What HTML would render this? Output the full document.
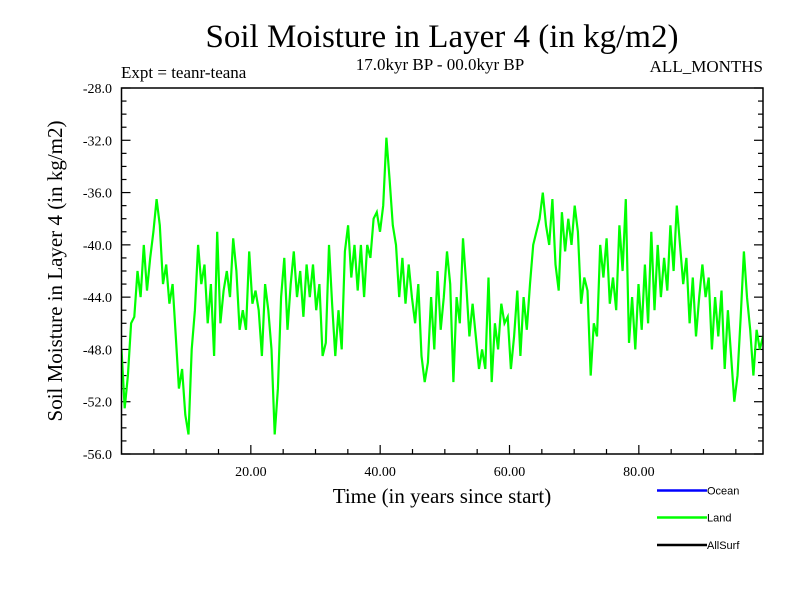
<!DOCTYPE html>
<html><head><meta charset="utf-8"><style>
body{margin:0;background:#fff}
svg{display:block;font-family:"Liberation Serif",serif}
</style></head><body>
<svg id="chart" width="800" height="600" viewBox="0 0 800 600">
<rect width="800" height="600" fill="#fff"/>
<text x="442" y="47" font-size="33" text-anchor="middle">Soil Moisture in Layer 4 (in kg/m2)</text>
<text x="121" y="78" font-size="17">Expt = teanr-teana</text>
<text x="440" y="70" font-size="17" text-anchor="middle">17.0kyr BP - 00.0kyr BP</text>
<text x="763" y="72" font-size="17" text-anchor="end">ALL_MONTHS</text>
<g id="axes"></g>
<clipPath id="clip"><rect x="121.5" y="88" width="641.5" height="366"/></clipPath>
<polyline id="land-line" clip-path="url(#clip)" fill="none" stroke="#00ff00" stroke-width="2.2" stroke-linejoin="miter"/>
<rect x="121.5" y="88" width="641.5" height="366" fill="none" stroke="#000" stroke-width="1.5"/>
<text x="442" y="503" font-size="21" text-anchor="middle">Time (in years since start)</text>
<text transform="translate(62,271) rotate(-90)" font-size="21" text-anchor="middle">Soil Moisture in Layer 4 (in kg/m2)</text>
<g font-family="Liberation Sans, sans-serif" font-size="11">
<line x1="657" y1="490.5" x2="707" y2="490.5" stroke="#0000ff" stroke-width="2.5"/>
<text x="707" y="494.5">Ocean</text>
<line x1="657" y1="517.5" x2="707" y2="517.5" stroke="#00ff00" stroke-width="2.5"/>
<text x="707" y="521.5">Land</text>
<line x1="657" y1="545" x2="707" y2="545" stroke="#000" stroke-width="2.5"/>
<text x="707" y="549">AllSurf</text>
</g>
</svg>
<script>
const yTickValues = [-28,-32,-36,-40,-44,-48,-52,-56];
const yTickLabels = ["-28.0","-32.0","-36.0","-40.0","-44.0","-48.0","-52.0","-56.0"];
const xTickValues = [20,40,60,80];
const xTickLabels = ["20.00","40.00","60.00","80.00"];
const landValues = [
-48,-52.5,-50,-46,-45.5,-42,-44,-40,-43.5,-41,-39,-36.5,-38.5,-43,-41.5,-44.5,-43,-47,-51,-49.5,
-53,-54.5,-48,-45,-40,-43,-41.5,-46,-43,-48.5,-39,-46,-43.5,-42,-44,-39.5,-42,-46.5,-45,-46.5,
-40.5,-44.5,-43.5,-45,-48.5,-43,-45,-48,-54.5,-51,-44,-41,-46.5,-43,-40.5,-44,-42,-45.5,-41.5,-44,
-41.5,-45,-43,-48.5,-47.5,-40,-44.5,-48.5,-45,-48,-40.5,-38.5,-42.5,-40,-43.5,-40,-44,-40,-41,-38,
-37.5,-39,-37,-31.8,-35,-38.5,-40,-44,-41,-44.5,-41.5,-44,-46,-43,-48.5,-50.5,-49,-44,-48,-42,
-46.5,-44,-40.5,-43,-50.5,-44,-46,-39.5,-43,-47,-44.5,-47,-49.5,-48,-49.5,-42.5,-50.5,-46,-48,-44.5,
-46,-45.5,-49.5,-47,-43.5,-48.5,-44,-46.5,-43,-40,-39,-38,-36,-38.5,-40,-36.5,-41.5,-43.5,-37.5,-40.5,
-38,-40,-37,-39,-44.5,-42.5,-43.5,-50,-46,-47,-40,-42.5,-39.5,-44.5,-42.5,-45,-38.5,-42,-36.5,-47.5,
-44,-48,-43,-46.5,-41.5,-46,-39,-45,-40,-44,-41,-43.5,-38.5,-42,-37,-40,-43,-41,-46,-42.5,
-47,-44,-41.5,-44,-42.5,-48,-44,-47,-43.5,-49.5,-45,-48.5,-52,-50,-45.5,-40.5,-44,-46.5,-50,-46.5,
-48,-47
];
const xMin = 0, xMax = 99.2, yMin = -56, yMax = -28;
const L = 121.5, R = 763, T = 88, B = 454;
function xs(v){return L + (v - xMin) / (xMax - xMin) * (R - L);}
function ys(v){return B - (v - yMin) / (yMax - yMin) * (B - T);}
const NS = "http://www.w3.org/2000/svg";
const axes = document.getElementById("axes");
function mk(tag, attrs){const e = document.createElementNS(NS, tag); for (const k in attrs) e.setAttribute(k, attrs[k]); return e;}
// y ticks: minor every 1 unit, major every 4
for (let v = yMin; v <= yMax; v++) {
  const major = (v % 4 === 0);
  const len = major ? 9 : 5;
  const y = ys(v);
  const t1 = mk("line", {x1: L, y1: y, x2: L + len, y2: y, stroke: "#000", "stroke-width": 1.2});
  
  
  axes.appendChild(t1);
  const t2 = mk("line", {x1: R, y1: y, x2: R - len, y2: y, stroke: "#000", "stroke-width": 1.2});
  
  
  axes.appendChild(t2);
}
yTickValues.forEach((v, i) => {
  const t = mk("text", {x: 112, y: ys(v) + 5, "font-size": 14, "text-anchor": "end"});
  t.textContent = yTickLabels[i];
  
  
  axes.appendChild(t);
});
// x ticks: minor every 5, major every 20
for (let v = 5; v < xMax; v += 5) {
  const major = (v % 20 === 0);
  const len = major ? 9 : 5;
  const x = xs(v);
  const t = mk("line", {x1: x, y1: B, x2: x, y2: B - len, stroke: "#000", "stroke-width": 1.2});
  
  
  axes.appendChild(t);
}
xTickValues.forEach((v, i) => {
  const t = mk("text", {x: xs(v), y: 476, "font-size": 14, "text-anchor": "middle"});
  t.textContent = xTickLabels[i];
  
  
  axes.appendChild(t);
});
const n = landValues.length;
const pts = landValues.map((v, i) => xs(xMin + i * (xMax - xMin) / (n - 1)).toFixed(1) + "," + ys(v).toFixed(1)).join(" ");
document.getElementById("land-line").setAttribute("points", pts);
</script>
</body></html>
